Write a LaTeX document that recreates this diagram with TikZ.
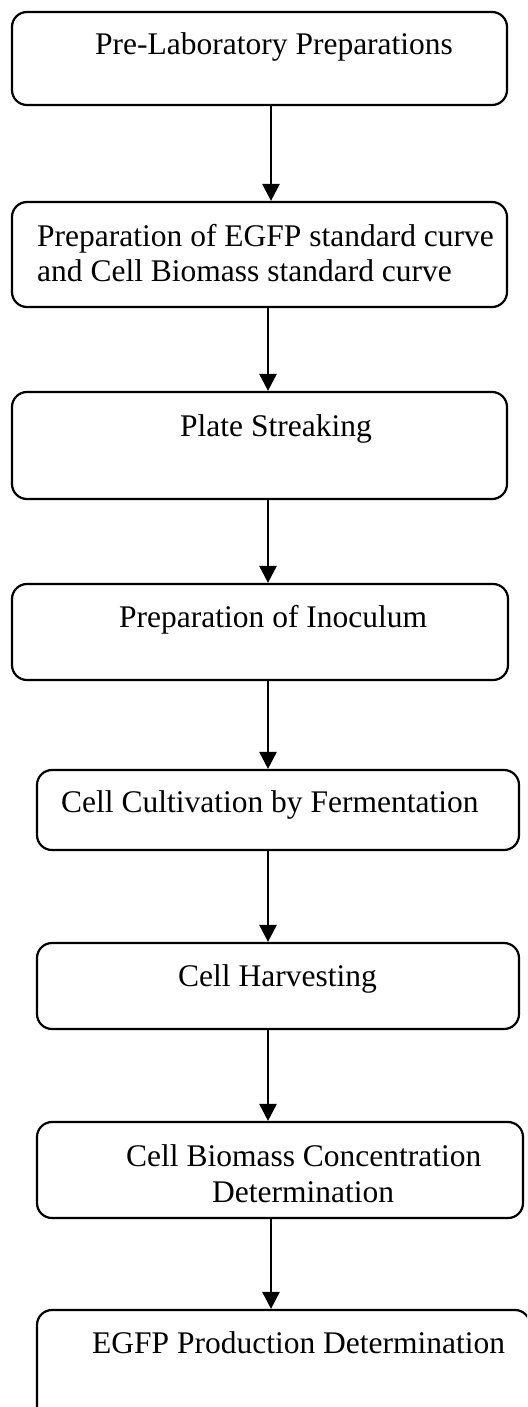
\documentclass[tikz,border=0pt]{standalone}
\usepackage{fontspec}
\setmainfont{Liberation Serif}
\usetikzlibrary{arrows.meta}
\tikzset{
  stepbox/.style={draw, line width=2.2pt, rounded corners=15pt, inner sep=0pt},
  steptext/.style={anchor=base west, inner sep=0pt, font=\fontsize{31.5pt}{35pt}\selectfont},
  flow/.style={line width=2.8pt, -{Triangle[length=17pt,width=17pt]}}
}
\begin{document}
\begin{tikzpicture}[x=1pt,y=-1pt]
\clip (0,0) rectangle (527,1407);
\fill[white] (0,0) rectangle (527,1407);
% boxes
\node[stepbox, minimum width=495pt, minimum height=93pt]  (b1) at (259.5,58.5) {};
\node[stepbox, minimum width=495pt, minimum height=105pt] (b2) at (259.5,254.5) {};
\node[stepbox, minimum width=495pt, minimum height=107pt] (b3) at (259.5,445.5) {};
\node[stepbox, minimum width=496pt, minimum height=96pt]  (b4) at (260,632) {};
\node[stepbox, minimum width=482pt, minimum height=80pt]  (b5) at (278,810) {};
\node[stepbox, minimum width=482pt, minimum height=86pt]  (b6) at (278,986) {};
\node[stepbox, minimum width=486pt, minimum height=96pt]  (b7) at (280,1170) {};
\node[stepbox, minimum width=493pt, minimum height=130pt] (b8) at (283.5,1375) {};
% texts
\node[steptext] (t1)  at (95,55)   {Pre-Laboratory Preparations};
\node[steptext] (t2a) at (37,246)  {Preparation of EGFP standard curve};
\node[steptext] (t2b) at (37,281)  {and Cell Biomass standard curve};
\node[steptext] (t3)  at (180,436) {Plate Streaking};
\node[steptext] (t4)  at (119,627) {Preparation of Inoculum};
\node[steptext] (t5)  at (61,812)  {Cell Cultivation by Fermentation};
\node[steptext] (t6)  at (178,986) {Cell Harvesting};
\node[steptext] (t7a) at (126,1166) {Cell Biomass Concentration};
\node[steptext] (t7b) at (212,1202) {Determination};
\node[steptext] (t8)  at (92,1353) {EGFP Production Determination};
% connectors
\draw[flow] ([xshift=11.5pt]b1.south) -- ([xshift=11.5pt]b2.north);
\draw[flow] ([xshift=8.5pt]b2.south)  -- ([xshift=8.5pt]b3.north);
\draw[flow] ([xshift=8.5pt]b3.south)  -- ([xshift=8pt]b4.north);
\draw[flow] ([xshift=8pt]b4.south)    -- ([xshift=-10pt]b5.north);
\draw[flow] ([xshift=-10pt]b5.south)  -- ([xshift=-10pt]b6.north);
\draw[flow] ([xshift=-10pt]b6.south)  -- ([xshift=-12pt]b7.north);
\draw[flow] ([xshift=-9pt]b7.south)   -- ([xshift=-12.5pt]b8.north);
\end{tikzpicture}
\end{document}
